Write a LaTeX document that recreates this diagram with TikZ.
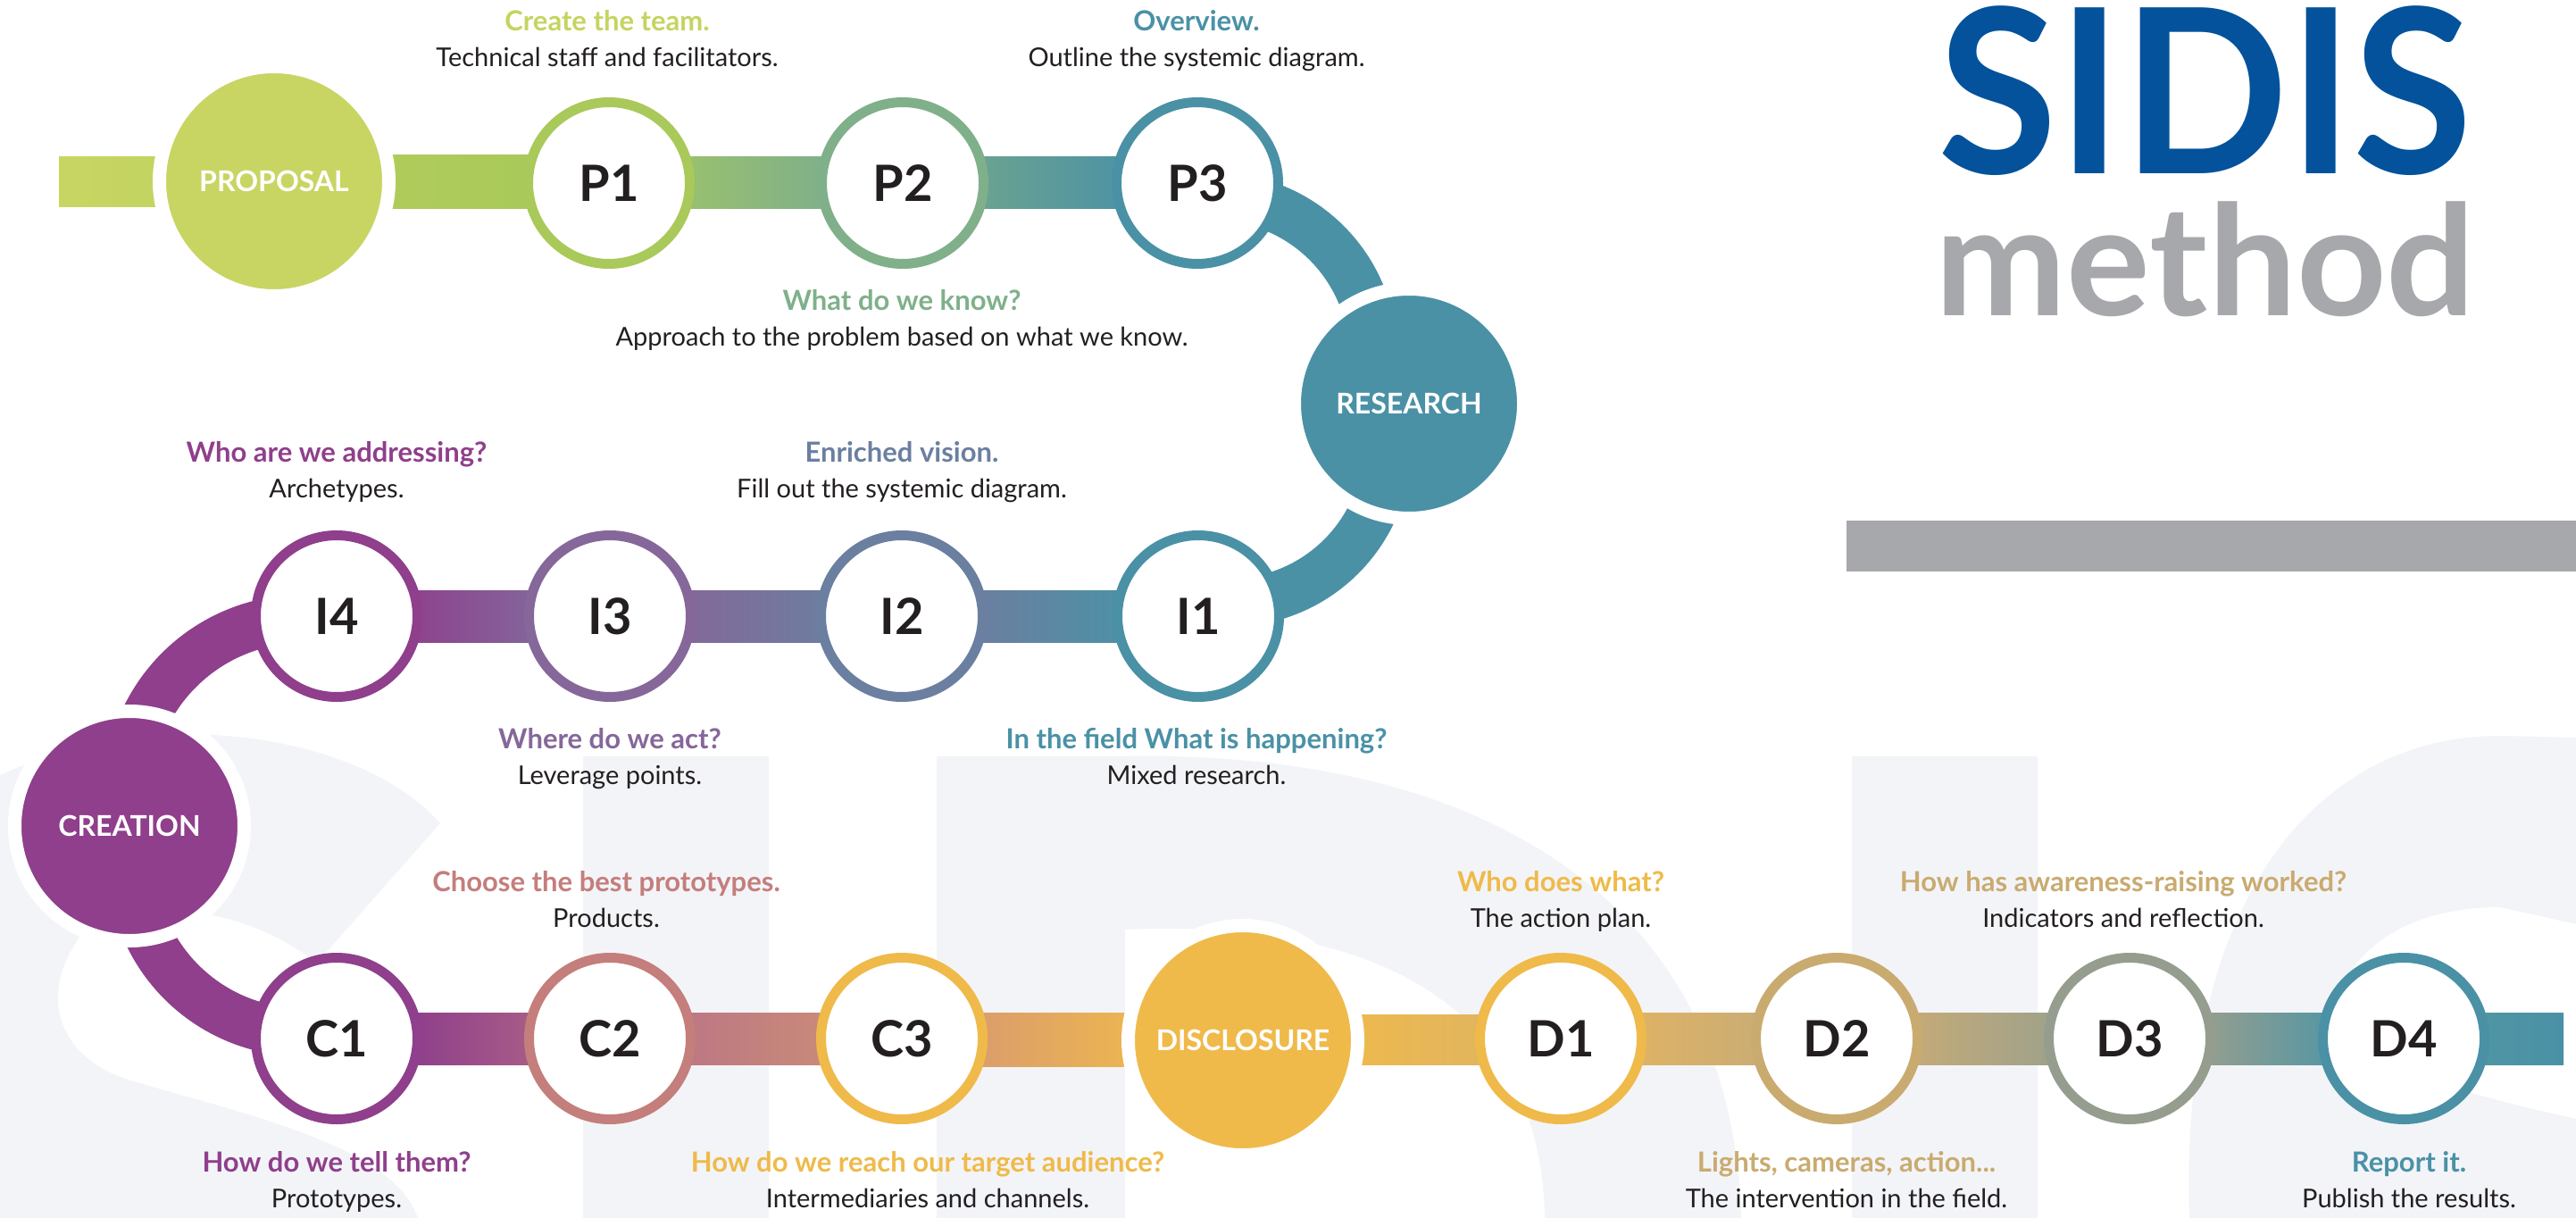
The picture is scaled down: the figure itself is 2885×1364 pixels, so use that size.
\documentclass[tikz,border=0pt]{standalone}
\usepackage{fontspec}
\setmainfont{Lato}
\definecolor{txt}{HTML}{231F20}
\definecolor{wm}{HTML}{F3F4F8}
\definecolor{cProp}{HTML}{C8D562}
\definecolor{cLime}{HTML}{C6D45F}
\definecolor{cP1}{HTML}{A9C95A}
\definecolor{cP2}{HTML}{7FB08A}
\definecolor{cTeal}{HTML}{4A91A6}
\definecolor{cI2}{HTML}{6B7FA0}
\definecolor{cI3}{HTML}{86679A}
\definecolor{cPurple}{HTML}{8F3F8B}
\definecolor{cC2}{HTML}{C47E7C}
\definecolor{cYel}{HTML}{EFBA4A}
\definecolor{cD2}{HTML}{C9AB70}
\definecolor{cD3}{HTML}{959E8E}
\definecolor{sidisblue}{HTML}{03529B}
\definecolor{methgray}{HTML}{A7A8AB}
% gradient ends
\definecolor{g1L}{HTML}{C8D562}\definecolor{g1R}{HTML}{C3D460}
\definecolor{g2L}{HTML}{B0CC5B}\definecolor{g2R}{HTML}{A9C95A}
\definecolor{g3L}{HTML}{98C070}\definecolor{g3R}{HTML}{80B089}
\definecolor{g4L}{HTML}{6AA291}\definecolor{g4R}{HTML}{4F94A3}
\definecolor{g5L}{HTML}{8D448D}\definecolor{g5R}{HTML}{84639A}
\definecolor{g6L}{HTML}{82699A}\definecolor{g6R}{HTML}{6E7CA0}
\definecolor{g7L}{HTML}{6B7FA0}\definecolor{g7R}{HTML}{4E90A6}
\definecolor{g8L}{HTML}{8F408B}\definecolor{g8R}{HTML}{A65B87}
\definecolor{g9L}{HTML}{BD7883}\definecolor{g9R}{HTML}{C98979}
\definecolor{g10L}{HTML}{DC9E6B}\definecolor{g10R}{HTML}{ECB551}
\definecolor{g11L}{HTML}{EDB94E}\definecolor{g11R}{HTML}{E2B55E}
\definecolor{g12L}{HTML}{DDB266}\definecolor{g12R}{HTML}{CBAD74}
\definecolor{g13L}{HTML}{C3AA79}\definecolor{g13R}{HTML}{A0A28A}
\definecolor{g14L}{HTML}{929E8F}\definecolor{g14R}{HTML}{5A97A2}
\definecolor{g15L}{HTML}{4F95A4}\definecolor{g15R}{HTML}{4A91A6}
\begin{document}
\begin{tikzpicture}[x=1pt,y=-1pt,
  stepc/.style={circle, draw=#1, fill=white, line width=11pt, minimum size=181pt, inner sep=0pt,
    font=\fontsize{56}{56}\selectfont\bfseries, text=txt},
  phase/.style={circle, draw=white, fill=#1, line width=15pt, minimum size=257pt, inner sep=0pt,
    font=\fontsize{32}{32}\selectfont\bfseries, text=white},
  band/.style={line width=54pt, draw=#1, line cap=butt},
  head/.style={anchor=base, inner sep=0pt, font=\fontsize{31}{31}\selectfont\bfseries, text=#1},
  bodytxt/.style={anchor=base, inner sep=0pt, font=\fontsize{29}{29}\selectfont, text=txt}]
\useasboundingbox (0,0) rectangle (2885,1364);
\fill[white] (0,0) rectangle (2885,1364);
% ---------- watermark letters ----------
\fill[wm] (0,868) .. controls (80,832) and (170,820) .. (237,823)
  .. controls (340,828) and (440,862) .. (493,922) -- (355,1078)
  .. controls (310,1045) and (240,1010) .. (160,1025)
  .. controls (120,1032) and (100,1040) .. (90,1048)
  .. controls (45,1110) and (60,1180) .. (140,1208)
  .. controls (260,1245) and (440,1280) .. (468,1364) -- (0,1364) -- cycle;
\fill[wm] (653,847) rectangle (861,1364);
\fill[wm] (1049,1364) -- (1049,847) -- (1260,847) .. controls (1650,840) and (1940,1000) .. (1950,1364) -- cycle;
\fill[white] (1260,1364) -- (1260,1041) .. controls (1500,1030) and (1725,1100) .. (1730,1364) -- cycle;
\fill[wm] (2074,847) rectangle (2282,1364);
\fill[wm] (2452,1364) .. controls (2440,1000) and (2600,824) .. (2800,824) -- (2885,826) -- (2885,1364) -- cycle;
\fill[white] (2885,1035) -- (2800,1016) .. controls (2680,1016) and (2610,1080) .. (2612,1160)
  .. controls (2640,1190) and (2760,1225) .. (2885,1253) -- cycle;
% ---------- title ----------
\node[anchor=base, font=\fontsize{257}{257}\selectfont\bfseries, text=sidisblue, inner sep=0pt,
  text height=184pt, text depth=0pt] (title) at (2470,195) {\scalebox{0.95}[1]{SIDIS}};
\node[anchor=base, font=\fontsize{172}{172}\selectfont\bfseries, text=methgray, inner sep=0pt,
  text height=128pt, text depth=0pt] (subtitle) at (2470,353) {\scalebox{1.02}[1]{method}};
\fill[methgray] (2068,583) rectangle (2885,640);
% ---------- centres ----------
\coordinate (lstart) at (66,205);
\coordinate (xProp) at (307,203);
\coordinate (xP1) at (682,205);
\coordinate (xP2) at (1011,205);
\coordinate (xP3) at (1341,205);
\coordinate (xRes) at (1578,452);
\coordinate (xI1) at (1342,690);
\coordinate (xI2) at (1010,690);
\coordinate (xI3) at (683,690);
\coordinate (xI4) at (377,690);
\coordinate (xCre) at (145,925);
\coordinate (xC1) at (377,1163);
\coordinate (xC2) at (683,1163);
\coordinate (xC3) at (1010,1163);
\coordinate (xDis) at (1392,1165);
\coordinate (xD1) at (1748,1163);
\coordinate (xD2) at (2057,1163);
\coordinate (xD3) at (2385,1163);
\coordinate (xD4) at (2692,1163);
\coordinate (rend) at (2871,1163);
\coordinate (aTR) at (1360,398);
\coordinate (aBR) at (1377,498);
\coordinate (aTL) at (339,889);
\coordinate (aBL) at (339,964);
% ---------- bars ----------
\shade[left color=g1L, right color=g1R] ([yshift=29pt]lstart) rectangle ([xshift=-125pt,yshift=-29pt]xProp);
\shade[left color=g2L, right color=g2R] ([xshift=125pt,yshift=29pt]xProp) rectangle ([xshift=-90pt,yshift=-29pt]xP1);
\shade[left color=g3L, right color=g3R] ([xshift=90pt,yshift=29pt]xP1) rectangle ([xshift=-90pt,yshift=-29pt]xP2);
\shade[left color=g4L, right color=g4R] ([xshift=90pt,yshift=29pt]xP2) rectangle ([xshift=-90pt,yshift=-29pt]xP3);
\shade[left color=g5L, right color=g5R] ([xshift=90pt,yshift=29pt]xI4) rectangle ([xshift=-90pt,yshift=-29pt]xI3);
\shade[left color=g6L, right color=g6R] ([xshift=90pt,yshift=29pt]xI3) rectangle ([xshift=-90pt,yshift=-29pt]xI2);
\shade[left color=g7L, right color=g7R] ([xshift=90pt,yshift=29pt]xI2) rectangle ([xshift=-90pt,yshift=-29pt]xI1);
\shade[left color=g8L, right color=g8R] ([xshift=90pt,yshift=29pt]xC1) rectangle ([xshift=-90pt,yshift=-29pt]xC2);
\shade[left color=g9L, right color=g9R] ([xshift=90pt,yshift=29pt]xC2) rectangle ([xshift=-90pt,yshift=-29pt]xC3);
\shade[left color=g10L, right color=g10R] ([xshift=90pt,yshift=29pt]xC3) rectangle ([xshift=-125pt,yshift=-29pt]xDis);
\shade[left color=g11L, right color=g11R] ([xshift=125pt,yshift=29pt]xDis) rectangle ([xshift=-90pt,yshift=-29pt]xD1);
\shade[left color=g12L, right color=g12R] ([xshift=90pt,yshift=29pt]xD1) rectangle ([xshift=-90pt,yshift=-29pt]xD2);
\shade[left color=g13L, right color=g13R] ([xshift=90pt,yshift=29pt]xD2) rectangle ([xshift=-90pt,yshift=-29pt]xD3);
\shade[left color=g14L, right color=g14R] ([xshift=90pt,yshift=29pt]xD3) rectangle ([xshift=-90pt,yshift=-29pt]xD4);
\shade[left color=g15L, right color=g15R] ([xshift=90pt,yshift=29pt]xD4) rectangle ([yshift=-29pt]rend);
% ---------- curved connectors ----------
\draw[band=cTeal] ([shift={(95.6:178pt)}]aTR) arc[start angle=95.6, end angle=-13.9, radius=178pt];
\draw[band=cTeal] ([shift={(12.9:177pt)}]aBR) arc[start angle=12.9, end angle=-100.3, radius=177pt];
\draw[band=cPurple] ([shift={(79.2:196pt)}]aTL) arc[start angle=79.2, end angle=190.5, radius=196pt];
\draw[band=cPurple] ([shift={(168.6:192pt)}]aBL) arc[start angle=168.6, end angle=280.8, radius=192pt];
% ---------- phase circles ----------
\node[phase=cProp] (prop) at (xProp) {\raisebox{-1pt}{PROPOSAL}};
\node[phase=cTeal] (res) at (xRes) {\raisebox{-5pt}{RESEARCH}};
\node[phase=cPurple] (cre) at (xCre) {\raisebox{-5pt}{CREATION}};
\node[phase=cYel] (dis) at (xDis) {\raisebox{-5pt}{DISCLOSURE}};
% ---------- step circles ----------
\node[stepc=cP1] (P1) at (xP1) {\raisebox{-3pt}{P1}};
\node[stepc=cP2] (P2) at (xP2) {\raisebox{-3pt}{P2}};
\node[stepc=cTeal] (P3) at (xP3) {\raisebox{-3pt}{P3}};
\node[stepc=cTeal] (I1) at (xI1) {\raisebox{-3pt}{I1}};
\node[stepc=cI2] (I2) at (xI2) {\raisebox{-3pt}{I2}};
\node[stepc=cI3] (I3) at (xI3) {\raisebox{-3pt}{I3}};
\node[stepc=cPurple] (I4) at (xI4) {\raisebox{-3pt}{I4}};
\node[stepc=cPurple] (C1) at (xC1) {\raisebox{-3pt}{C1}};
\node[stepc=cC2] (C2) at (xC2) {\raisebox{-3pt}{C2}};
\node[stepc=cYel] (C3) at (xC3) {\raisebox{-3pt}{C3}};
\node[stepc=cYel] (D1) at (xD1) {\raisebox{-3pt}{D1}};
\node[stepc=cD2] (D2) at (xD2) {\raisebox{-3pt}{D2}};
\node[stepc=cD3] (D3) at (xD3) {\raisebox{-3pt}{D3}};
\node[stepc=cTeal] (D4) at (xD4) {\raisebox{-3pt}{D4}};
% ---------- texts ----------
\node[head=cLime] (hP1) at (680,35) {Create the team.};
\node[bodytxt] (bP1) at (680,75) {Technical staff and facilitators.};
\node[head=cTeal] (hP3) at (1340,35) {Overview.};
\node[bodytxt] (bP3) at (1340,75) {Outline the systemic diagram.};
\node[head=cP2] (hP2) at (1010,347) {What do we know?};
\node[bodytxt] (bP2) at (1010,387) {Approach to the problem based on what we know.};
\node[head=cPurple] (hI4) at (377,517) {Who are we addressing?};
\node[bodytxt] (bI4) at (377,557) {Archetypes.};
\node[head=cI2] (hI2) at (1010,517) {Enriched vision.};
\node[bodytxt] (bI2) at (1010,557) {Fill out the systemic diagram.};
\node[head=cI3] (hI3) at (683,838) {Where do we act?};
\node[bodytxt] (bI3) at (683,878) {Leverage points.};
\node[head=cTeal] (hI1) at (1340,838) {In the field What is happening?};
\node[bodytxt] (bI1) at (1340,878) {Mixed research.};
\node[head=cC2] (hC2) at (679,998) {Choose the best prototypes.};
\node[bodytxt] (bC2) at (679,1038) {Products.};
\node[head=cYel] (hD1) at (1748,998) {Who does what?};
\node[bodytxt] (bD1) at (1748,1038) {The action plan.};
\node[head=cD2] (hD3) at (2378,998) {How has awareness-raising worked?};
\node[bodytxt] (bD3) at (2378,1038) {Indicators and reflection.};
\node[head=cPurple] (hC1) at (377,1312) {How do we tell them?};
\node[bodytxt] (bC1) at (377,1352) {Prototypes.};
\node[head=cYel] (hC3) at (1039,1312) {How do we reach our target audience?};
\node[bodytxt] (bC3) at (1039,1352) {Intermediaries and channels.};
\node[head=cD2] (hD2) at (2068,1312) {Lights, cameras, action...};
\node[bodytxt] (bD2) at (2068,1352) {The intervention in the field.};
\node[head=cTeal] (hD4) at (2698,1312) {Report it.};
\node[bodytxt] (bD4) at (2698,1352) {Publish the results.};
\end{tikzpicture}
\end{document}
